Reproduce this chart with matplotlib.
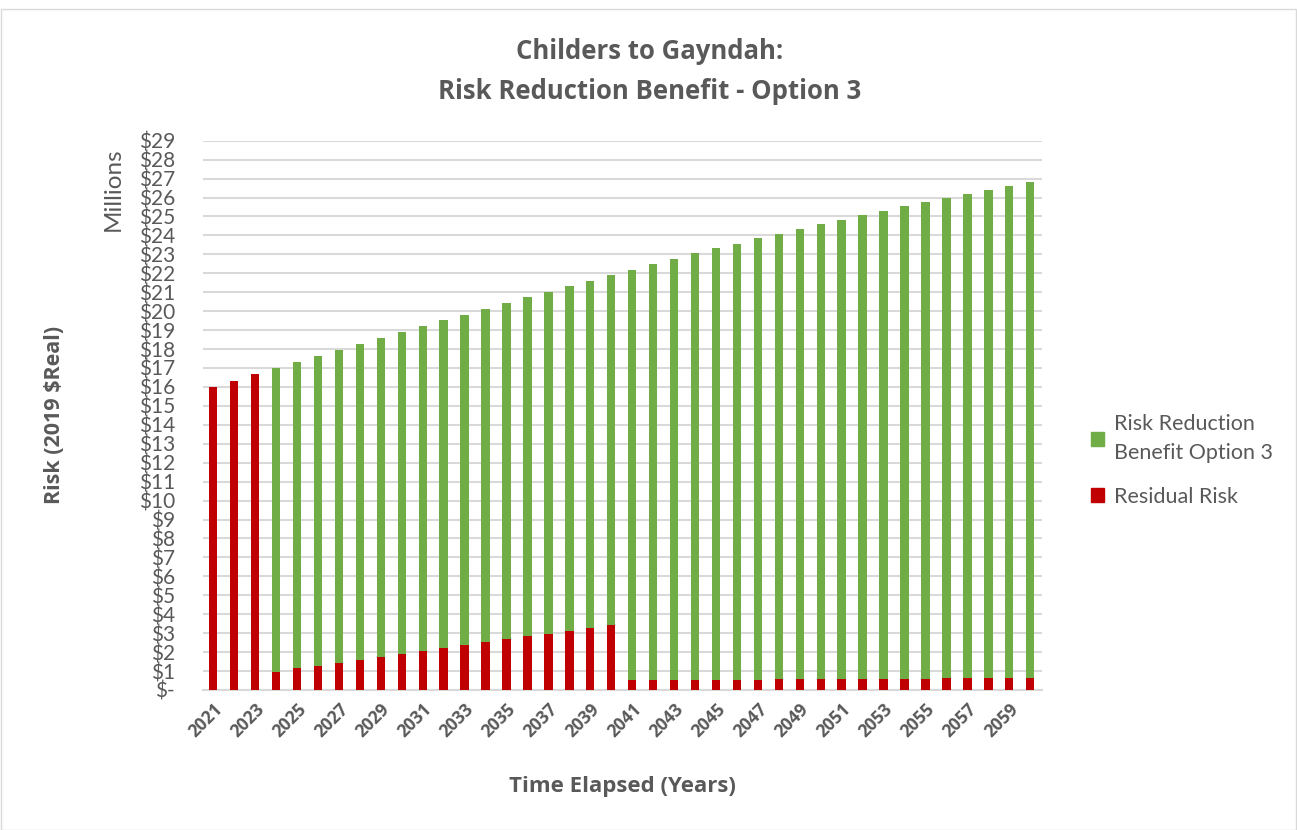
import matplotlib
matplotlib.use('Agg')
import matplotlib.pyplot as plt
from matplotlib.patches import Rectangle, Patch

years = list(range(2021, 2061))

# total risk without the project (Residual + Benefit), $ millions
total_risk = [16.01, 16.33, 16.67, 16.98, 17.30, 17.62, 17.95, 18.25, 18.57, 18.90,
              19.20, 19.52, 19.82, 20.12, 20.42, 20.73, 21.01, 21.33, 21.61, 21.91,
              22.19, 22.49, 22.76, 23.06, 23.32, 23.56, 23.85, 24.09, 24.34, 24.60,
              24.83, 25.08, 25.31, 25.56, 25.77, 25.99, 26.19, 26.40, 26.59, 26.81]

residual_risk = [16.01, 16.33, 16.67, 0.97, 1.14, 1.28, 1.44, 1.60, 1.76, 1.92,
                 2.08, 2.23, 2.38, 2.53, 2.69, 2.85, 2.97, 3.13, 3.27, 3.42,
                 0.51, 0.51, 0.51, 0.52, 0.55, 0.55, 0.55, 0.56, 0.56, 0.56,
                 0.57, 0.58, 0.60, 0.60, 0.60, 0.62, 0.62, 0.62, 0.62, 0.62]

benefit = [t - r for t, r in zip(total_risk, residual_risk)]

y_ticks = list(range(0, 30))
y_labels = ['$-'] + ['$%d' % v for v in range(1, 30)]

GREEN = '#70AD47'
RED = '#C00000'
GREY = '#595959'
FONT = 'Lato'
BOLD_FONT = 'Open Sans'


def main():
    fig = plt.figure(figsize=(12.97, 8.30), dpi=100)
    ax = fig.add_axes([0.1563, 0.1687, 0.6469, 0.6618])

    x = list(range(len(years)))
    ax.bar(x, residual_risk, width=0.4, color=RED, zorder=3)
    ax.bar(x, benefit, width=0.4, bottom=residual_risk, color=GREEN, zorder=3)

    ax.set_xlim(-0.5, len(years) - 0.45)
    ax.set_ylim(0, 29)
    ax.set_yticks(y_ticks)
    ax.set_yticklabels(y_labels, fontsize=15, color=GREY, family=FONT)
    ax.tick_params(axis='y', length=0, pad=20)

    ax.set_xticks(x[::2])
    ax.set_xticklabels([str(y) for y in years[::2]], rotation=45, ha='right',
                       rotation_mode='anchor', fontsize=12.5, fontweight='bold',
                       color=GREY, family=BOLD_FONT)
    ax.tick_params(axis='x', length=0, pad=7)

    ax.grid(axis='y', color='#D9D9D9', linewidth=1.5, zorder=0)
    for s in ['top', 'right', 'left']:
        ax.spines[s].set_visible(False)
    ax.spines['bottom'].set_color('#D9D9D9')
    ax.spines['bottom'].set_linewidth(1.5)

    fig.text(0.501, 0.914, 'Childers to Gayndah:\nRisk Reduction Benefit - Option 3',
             ha='center', va='center', fontsize=18.5, fontweight='bold', color=GREY,
             family=BOLD_FONT, linespacing=1.62)

    fig.text(0.087, 0.772, 'Millions', rotation=90, ha='center', va='center',
             fontsize=17.5, color=GREY, family=FONT)
    fig.text(0.042, 0.5, 'Risk (2019 $Real)', rotation=90, ha='center', va='center',
             fontsize=15.5, fontweight='bold', color=GREY, family=BOLD_FONT)
    fig.text(0.48, 0.052, 'Time Elapsed (Years)', ha='center', va='center',
             fontsize=16, fontweight='bold', color=GREY, family=BOLD_FONT)

    handles = [Patch(color=GREEN, label='Risk Reduction\nBenefit Option 3'),
               Patch(color=RED, label='Residual Risk')]
    leg = fig.legend(handles=handles, loc='center left', bbox_to_anchor=(0.826, 0.445),
                     frameon=False, handlelength=0.6, handleheight=0.6,
                     handletextpad=0.5, labelspacing=1.1,
                     prop={'family': FONT, 'size': 15.5})
    for t in leg.get_texts():
        t.set_color(GREY)
        t.set_linespacing(1.55)

    fig.patches.append(Rectangle((0.001, 0.0), 0.998, 0.989, transform=fig.transFigure,
                                 fill=False, edgecolor='#D9D9D9', linewidth=1))

    fig.savefig('out.png', dpi=100)


if __name__ == '__main__':
    main()
